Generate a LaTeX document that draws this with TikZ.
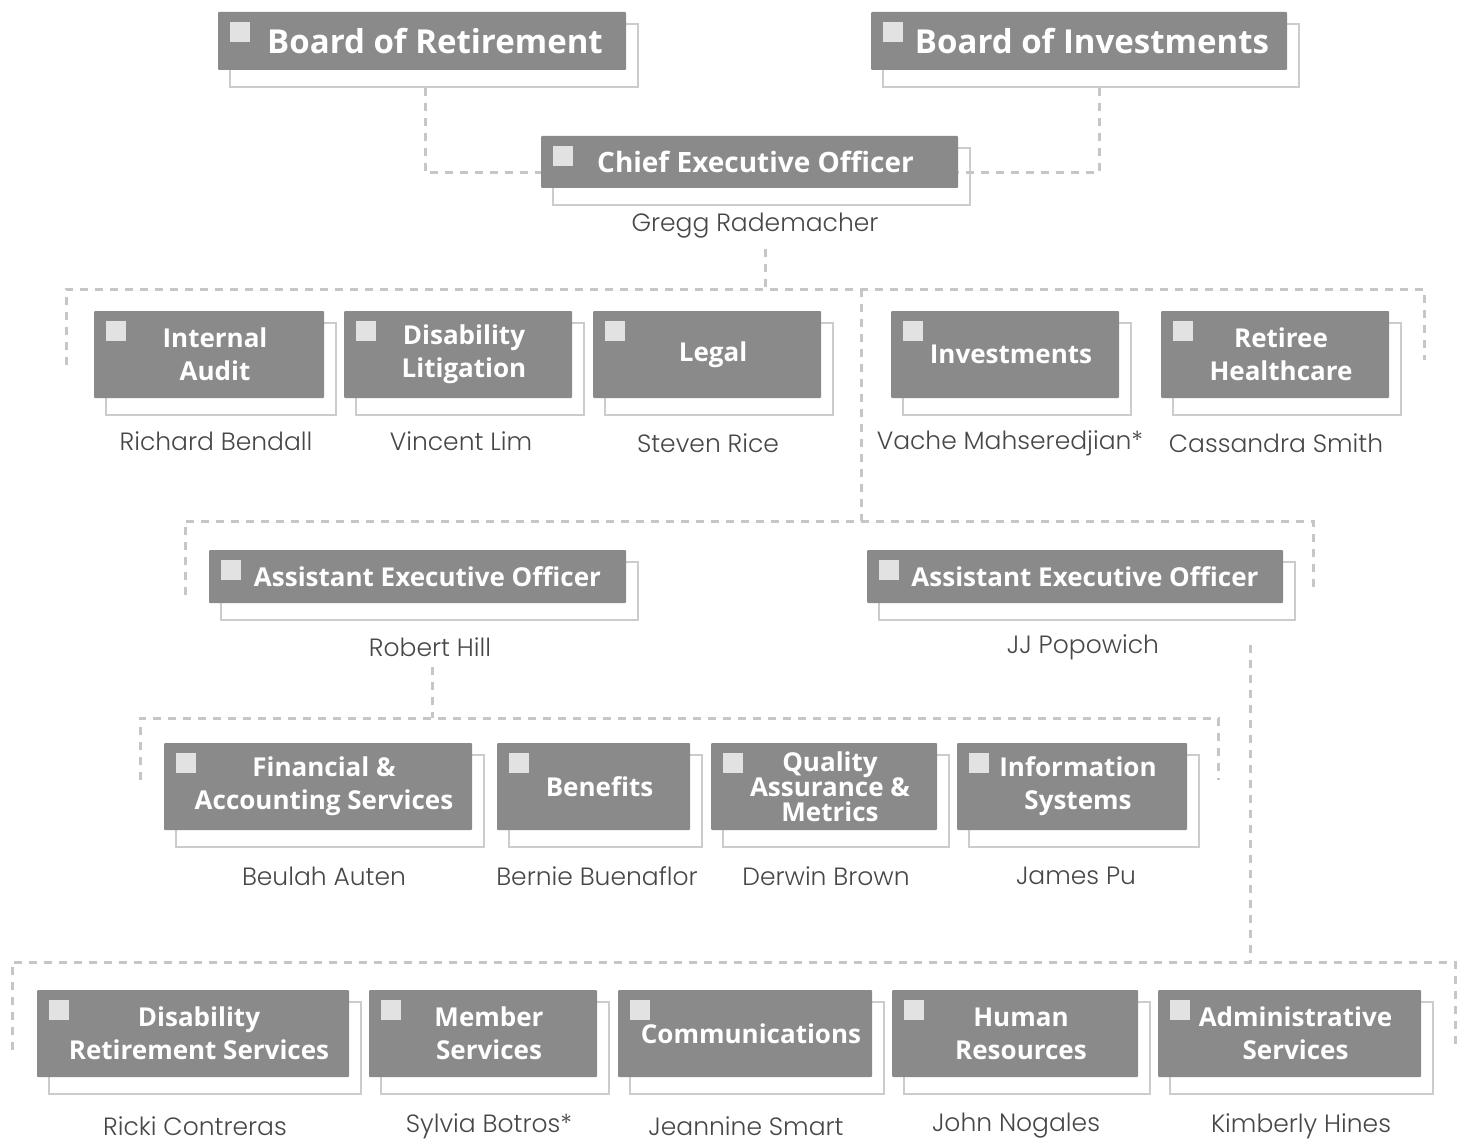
\documentclass[tikz,border=0pt]{standalone}
\usepackage{fontspec}
\setmainfont{Open Sans}
\newfontfamily\namefont{Poppins Light}
\usetikzlibrary{calc}
\definecolor{boxgray}{HTML}{8A8A8A}
\definecolor{framegray}{HTML}{CCCCCC}
\definecolor{icongray}{HTML}{E2E2E2}
\definecolor{linkgray}{HTML}{C6C6C6}
\definecolor{namegray}{HTML}{474747}
\tikzset{
  orgbox/.style={rectangle, fill=boxgray, inner sep=0pt, rounded corners=1pt},
  orgframe/.style={rectangle, draw=framegray, line width=1.3pt, inner sep=0pt},
  orgicon/.style={rectangle, fill=icongray, minimum size=20pt, inner sep=0pt, anchor=north west},
  orgtext/.style={text=white, align=center, font=\bfseries\fontsize{26}{33}\selectfont, inner sep=0pt},
  bigtext/.style={orgtext, font=\bfseries\fontsize{33}{38}\selectfont, xshift=7pt},
  midtext/.style={orgtext, font=\bfseries\fontsize{28}{32}\selectfont},
  aeotext/.style={orgtext, font=\bfseries\fontsize{26}{31}\selectfont, xshift=4pt},
  person/.style={text=namegray, font=\namefont\fontsize{25}{29}\selectfont, inner sep=0pt},
  link/.style={draw=linkgray, line width=3pt, dash pattern=on 8pt off 7pt},
}
% #1 id, #2 x1, #3 y1, #4 x2, #5 y2, #6 text style, #7 text
\newcommand\orgunit[7]{%
  \pgfmathsetmacro\ux{(#2+#4)/2}%
  \pgfmathsetmacro\uy{(#3+#5)/2}%
  \pgfmathsetmacro\uw{#4-#2}%
  \pgfmathsetmacro\uh{#5-#3}%
  \pgfmathsetmacro\ufh{#5-#3+5}%
  \node[orgframe, minimum width=\uw pt, minimum height=\ufh pt] (#1f) at (\ux+12,\uy+14.5) {};
  \node[orgbox, minimum width=\uw pt, minimum height=\uh pt] (#1) at (\ux,\uy) {};
  \node[orgicon] (#1i) at (#2+12,#3+10) {};
  \node[#6] (#1t) at (\ux+6,\uy) {#7};
}
% #1 id, #2 x, #3 y, #4 name
\newcommand\orgname[4]{\node[person] (#1) at (#2,#3) {#4};}
\begin{document}
\begin{tikzpicture}[x=1pt,y=-1pt]
\useasboundingbox (0,0) rectangle (1465,1142);
\fill[white] (0,0) rectangle (1465,1142);

% ---------- connector points ----------
\coordinate (borx) at (425,0);
\coordinate (boix) at (1099,0);
\coordinate (b1a) at (66,365);
\coordinate (b1b) at (66,289);
\coordinate (b1c) at (1424,289);
\coordinate (b1d) at (1424,360);
\coordinate (b1m) at (765,289);
\coordinate (b1s) at (861,289);
\coordinate (b2a) at (185,595);
\coordinate (b2b) at (185,521);
\coordinate (b2c) at (1313,521);
\coordinate (b2d) at (1313,590);
\coordinate (b2m) at (861,521);
\coordinate (b3a) at (140,780);
\coordinate (b3b) at (140,718);
\coordinate (b3c) at (1218,718);
\coordinate (b3d) at (1218,780);
\coordinate (b3m) at (432,718);
\coordinate (b4a) at (12,1050);
\coordinate (b4b) at (12,962);
\coordinate (b4c) at (1455,962);
\coordinate (b4d) at (1455,1048);
\coordinate (b4m) at (1250,962);
\coordinate (jjs) at (1250,645);

% ---------- boxes ----------
\orgunit{bor}{218}{12}{626}{70}{bigtext}{Board of Retirement}
\orgunit{boi}{871}{12}{1287}{70}{bigtext}{Board of Investments}
\orgunit{ceo}{541}{136}{958}{188}{midtext}{Chief Executive Officer}
\orgname{ceon}{755}{226}{Gregg Rademacher}

\orgunit{ia}{94}{311}{324}{398}{orgtext}{Internal\\Audit}
\orgname{ian}{216}{441}{Richard Bendall}
\orgunit{dl}{344}{311}{572}{398}{orgtext}{Disability\\Litigation}
\orgname{dln}{461}{441}{Vincent Lim}
\orgunit{lg}{593}{311}{821}{398}{orgtext}{Legal}
\orgname{lgn}{708}{443}{Steven Rice}
\orgunit{inv}{891}{311}{1119}{398}{orgtext}{Investments}
\orgname{invn}{1010}{443}{Vache Mahseredjian*}
\orgunit{rh}{1161}{311}{1389}{398}{orgtext}{Retiree\\Healthcare}
\orgname{rhn}{1276}{443}{Cassandra Smith}

\orgunit{aeoa}{209}{550}{626}{603}{aeotext}{Assistant Executive Officer}
\orgname{aeoan}{430}{647}{Robert Hill}
\orgunit{aeob}{867}{550}{1283}{603}{aeotext}{Assistant Executive Officer}
\orgname{aeobn}{1083}{647}{JJ Popowich}

\orgunit{fas}{164}{743}{472}{830}{orgtext}{Financial \&\\Accounting Services}
\orgname{fasn}{324}{876}{Beulah Auten}
\orgunit{ben}{497}{743}{690}{830}{orgtext}{Benefits}
\orgname{benn}{597}{876}{Bernie Buenaflor}
\orgunit{qam}{711}{743}{937}{830}{orgtext}{Quality\\[-8pt]Assurance \&\\[-8pt]Metrics}
\orgname{qamn}{826}{876}{Derwin Brown}
\orgunit{is}{957}{743}{1187}{830}{orgtext}{Information\\Systems}
\orgname{isn}{1076}{876}{James Pu}

\orgunit{drs}{37}{990}{349}{1077}{orgtext}{Disability\\Retirement Services}
\orgname{drsn}{195}{1126}{Ricki Contreras}
\orgunit{ms}{369}{990}{597}{1077}{orgtext}{Member\\Services}
\orgname{msn}{489}{1126}{Sylvia Botros*}
\orgunit{com}{618}{990}{872}{1077}{orgtext}{Communications}
\orgname{comn}{746}{1126}{Jeannine Smart}
\orgunit{hr}{892}{990}{1138}{1077}{orgtext}{Human\\Resources}
\orgname{hrn}{1016}{1126}{John Nogales}
\orgunit{as}{1158}{990}{1421}{1077}{orgtext}{Administrative\\Services}
\orgname{asn}{1301}{1126}{Kimberly Hines}

% ---------- connectors ----------
\draw[link] (borf.south -| borx) |- ($(ceo.west)+(0,11)$);
\draw[link] (boif.south -| boix) |- ($(ceo.east)+(0,11)$);
\draw[link] ($(ceon.south -| b1m)+(0,10)$) -- (b1m);
\draw[link] (b1a) -- (b1b) -- (b1c) -- (b1d);
\draw[link] (b1s) -- (b2m);
\draw[link] (b2a) -- (b2b) -- (b2c) -- (b2d);
\draw[link] ($(aeoan.south -| b3m)+(0,10)$) -- (b3m);
\draw[link] (b3a) -- (b3b) -- (b3c) -- (b3d);
\draw[link] (jjs) -- (b4m);
\draw[link] (b4a) -- (b4b) -- (b4c) -- (b4d);
\end{tikzpicture}
\end{document}
